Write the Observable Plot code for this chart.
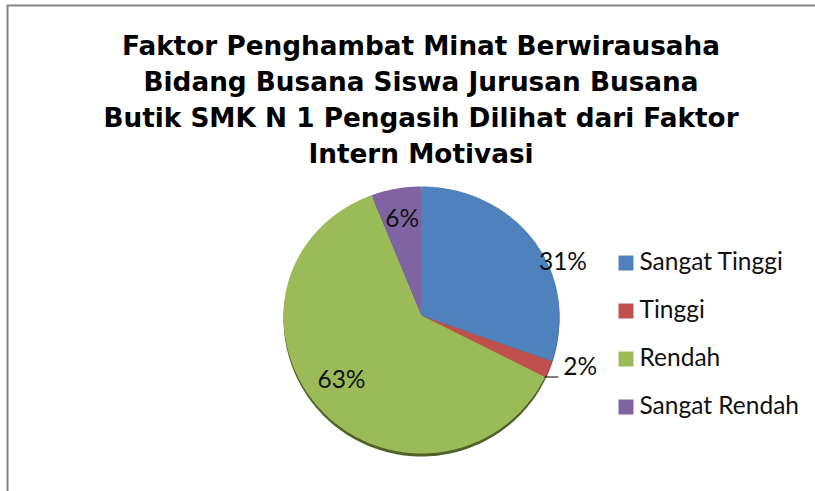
<!DOCTYPE html>
<html>
<head>
<meta charset="utf-8">
<script src="https://cdn.jsdelivr.net/npm/d3@7"></script>
<script src="https://cdn.jsdelivr.net/npm/@observablehq/plot@0.6"></script>
<style>html,body{margin:0;padding:0;background:#fff}svg{display:block}</style>
</head>
<body>
<div id="chart"></div>
<script>
const categories = ["Sangat Tinggi", "Tinggi", "Rendah", "Sangat Rendah"];
const percents = [31, 2, 63, 6];
const colors = ["#4f81bd", "#c0504d", "#9bbb59", "#8064a2"];
const shades = ["#3d6592", "#953e3b", "#4f6228", "#634d7e"];
const titleLines = [
  "Faktor Penghambat Minat Berwirausaha",
  "Bidang Busana Siswa Jurusan Busana",
  "Butik SMK N 1 Pengasih Dilihat dari Faktor",
  "Intern Motivasi"
];
// data-label placement in pie units (manual layout in the original chart)
const labelX = [1.025, 1.15, -0.58, -0.14];
const labelY = [0.41, -0.40, -0.50, 0.75];
const lowerStretch = 138 / 129; // the pie face is seen slightly tilted

const arcs = d3.pie().sort(null).value(d => d)(percents);
const tilt = v => (v < 0 ? v * lowerStretch : v);
const slicePoints = arcs.flatMap((a, i) => {
  const n = Math.max(2, Math.ceil((a.endAngle - a.startAngle) * 60));
  const pts = [{name: categories[i], px: 0, py: 0}];
  for (let k = 0; k <= n; k++) {
    const t = a.startAngle + (a.endAngle - a.startAngle) * k / n;
    pts.push({name: categories[i], px: Math.sin(t), py: tilt(Math.cos(t))});
  }
  pts.push({name: categories[i], px: 0, py: 0});
  return pts;
});
const labels = percents.map((p, i) => ({text: p + "%", px: labelX[i], py: labelY[i]}));
const leaderAngle = arcs[1].endAngle;
const leaderY = tilt(Math.cos(leaderAngle));
const leaderX = Math.sin(leaderAngle);

const bodyFont = "Lato, 'Noto Sans', sans-serif";
const legendMarks = categories.flatMap((c, i) => [
  Plot.dot([c], {fill: d => d, symbol: "square", r: 8.46, stroke: "none",
    frameAnchor: "top-left", dx: 625.5, dy: 262.5 + i * 48}),
  Plot.text([c], {text: d => d, frameAnchor: "top-left", textAnchor: "start", lineAnchor: "middle",
    dx: 639, dy: 262 + i * 48, fontSize: 24.5, fontFamily: bodyFont, fill: "#111"})
]);

const chart = Plot.plot({
  width: 815,
  height: 491,
  margin: 0,
  x: {domain: [-1, 1], range: [283, 559], axis: null},
  y: {domain: [-1, 1], range: [444, 186], axis: null},
  color: {domain: categories, range: colors},
  style: {background: "#fff", overflow: "hidden"},
  marks: [
    Plot.frame({stroke: "#868686", strokeWidth: 2, insetLeft: 7, insetTop: 5, insetRight: -10, insetBottom: -10}),
    Plot.text([titleLines.join("\n")], {
      frameAnchor: "top", lineAnchor: "top", dx: 13, dy: 29, lineHeight: 1.365,
      fontSize: 26.3, fontWeight: "bold", fontFamily: "'DejaVu Sans', sans-serif", fill: "#000"
    }),
    Plot.line(slicePoints, {x: "px", y: "py", z: "name", dy: 3, stroke: "none",
      fill: d => shades[categories.indexOf(d.name)], curve: "linear", style: {filter: "blur(0.6px)"}}),
    Plot.line(slicePoints, {x: "px", y: "py", z: "name", fill: "name", stroke: "none", curve: "linear"}),
    Plot.ruleY([leaderY], {x1: leaderX, x2: leaderX + 0.1, stroke: "#000", strokeWidth: 1}),
    Plot.text(labels, {x: "px", y: "py", text: "text", fontSize: 24.5, fontFamily: bodyFont, fill: "#111"}),
    ...legendMarks
  ]
});
document.getElementById("chart").append(chart);
</script>
</body>
</html>
